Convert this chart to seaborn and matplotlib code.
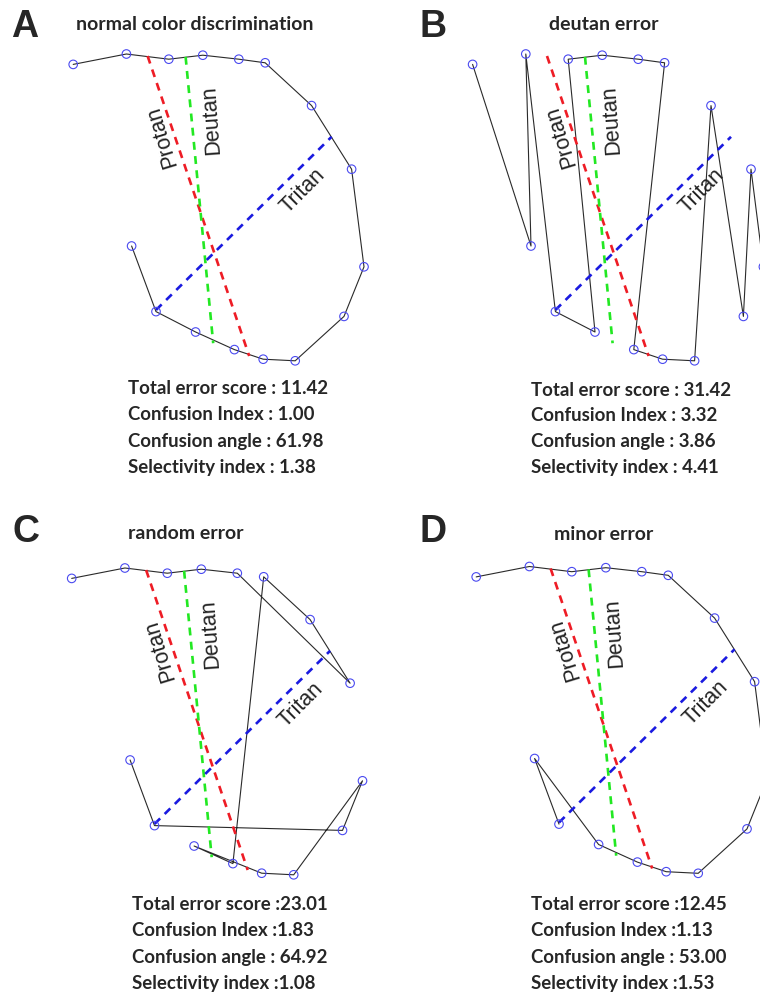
import numpy as np
import pandas as pd
import matplotlib.pyplot as plt
import seaborn as sns

# Posição das 16 peças do teste D-15 (peça 0 = peça de referência)
cap_u = [-21.6, -15.5, -5.6, 4.1, 11.3, 19.3, 31.5, 36.5, 33.4, 23.4, 11.8, 5.2, -3.8, -12.3, -22.9, -36.2]
cap_v = [-9.0, -25.4, -30.5, -34.9, -37.3, -37.7, -26.6, -14.2, 10.2, 26.1, 36.8, 37.7, 38.7, 37.7, 39.0, 36.4]

# Ordem em que as peças foram arranjadas em cada caso
order_normal = [0, 1, 2, 3, 4, 5, 6, 7, 8, 9, 10, 11, 12, 13, 14, 15]
order_deutan = [15, 0, 14, 1, 2, 13, 12, 11, 10, 3, 4, 5, 9, 6, 8, 7]
order_random = [0, 1, 6, 7, 5, 4, 2, 3, 10, 9, 8, 11, 12, 13, 14, 15]
order_minor = [1, 0, 2, 3, 4, 5, 6, 7, 8, 9, 10, 11, 12, 13, 14, 15]

# Linhas de confusão (extremidades)
protan_u = [-17.6, 7.8]
protan_v = [38.5, -36.5]
deutan_u = [-8.1, -1.2]
deutan_v = [38.3, -33.3]
tritan_u = [-15.5, 28.4]
tritan_v = [-25.0, 18.3]

# Índices calculados
total_error = [11.42, 31.42, 23.01, 12.45]
confusion_index = [1.00, 3.32, 1.83, 1.13]
confusion_angle = [61.98, 3.86, 64.92, 53.00]
selectivity_index = [1.38, 4.41, 1.08, 1.53]

titles = ['normal color discrimination', 'deutan error', 'random error', 'minor error']
letters = ['A', 'B', 'C', 'D']
orders = [order_normal, order_deutan, order_random, order_minor]

sns.set_style('white')
plt.rcParams['font.family'] = ['Liberation Sans', 'DejaVu Sans']

W, H = 760, 1000
fig = plt.figure(figsize=(7.6, 10), dpi=100)

# layout em pixels (canto superior esquerdo de cada painel)
offsets = [(0, 0), (399.4, 0), (-1.5, 514), (403, 512.5)]
title_pos = [(195, 25), (603.5, 25), (185.5, 533.5), (603.3, 534.3)]
letter_pos = [(25, 27), (433, 27), (25.5, 531.7), (433, 532)]
stats_pos = [(128.3, 389), (530.7, 390), (132.3, 905), (530.7, 905)]
seps = [[' : '] * 4, [' : '] * 4, [' :', ' :', ' : ', ' :'], [' :', ' :', ' : ', ' :']]

labels = [('Protan', -14.1, 18.3, 107), ('Deutan', -1.6, 22.5, 94), ('Tritan', 21.1, 4.8, 45)]

for i in range(4):
    ox, oy = offsets[i]
    ax = fig.add_axes([ox / W, 1 - (oy + 500) / H, 400 / W, 500 / H])
    ax.set_xlim(-54.5, 45.5)
    ax.set_ylim(-72.5, 52.5)
    ax.set_axis_off()
    ax.patch.set_alpha(0)

    df = pd.DataFrame({'u': [cap_u[k] for k in orders[i]],
                       'v': [cap_v[k] for k in orders[i]]})
    sns.lineplot(data=df, x='u', y='v', sort=False, estimator=None,
                 color='#2a2a2a', lw=0.8, ax=ax, zorder=2)

    ax.plot(protan_u, protan_v, color='#ee1c25', lw=1.9, dashes=(3.0, 2.4), zorder=3)
    ax.plot(deutan_u, deutan_v, color='#22e822', lw=1.9, dashes=(3.0, 2.4), zorder=3)
    ax.plot(tritan_u, tritan_v, color='#1a1ae0', lw=1.9, dashes=(3.0, 2.4), zorder=3)

    sns.scatterplot(data=df, x='u', y='v', s=38, facecolors='none',
                    edgecolor='#4a4af0', linewidth=0.8, legend=False, ax=ax, zorder=4)

    for name, lu, lv, rot in labels:
        ax.text(lu, lv, name, rotation=rot, rotation_mode='anchor',
                ha='center', va='center', fontsize=15.5, color='#222222')

    tx, ty = title_pos[i]
    fig.text(tx / W, 1 - ty / H, titles[i], ha='center', va='center',
             fontsize=14, fontweight='bold', family=['Lato', 'DejaVu Sans'])
    lx, ly = letter_pos[i]
    fig.text(lx / W, 1 - ly / H, letters[i], ha='center', va='center',
             fontsize=27, fontweight='bold')

    sx, sy = stats_pos[i]
    lines = [f'Total error score{seps[i][0]}{total_error[i]:.2f}',
             f'Confusion Index{seps[i][1]}{confusion_index[i]:.2f}',
             f'Confusion angle{seps[i][2]}{confusion_angle[i]:.2f}',
             f'Selectivity index{seps[i][3]}{selectivity_index[i]:.2f}']
    for j, txt in enumerate(lines):
        fig.text(sx / W, 1 - (sy + 26 * j) / H, txt, ha='left', va='center',
                 fontsize=13.4, fontweight='bold', family=['Lato', 'DejaVu Sans'])

fig.savefig('out.png', dpi=100, facecolor='white')
